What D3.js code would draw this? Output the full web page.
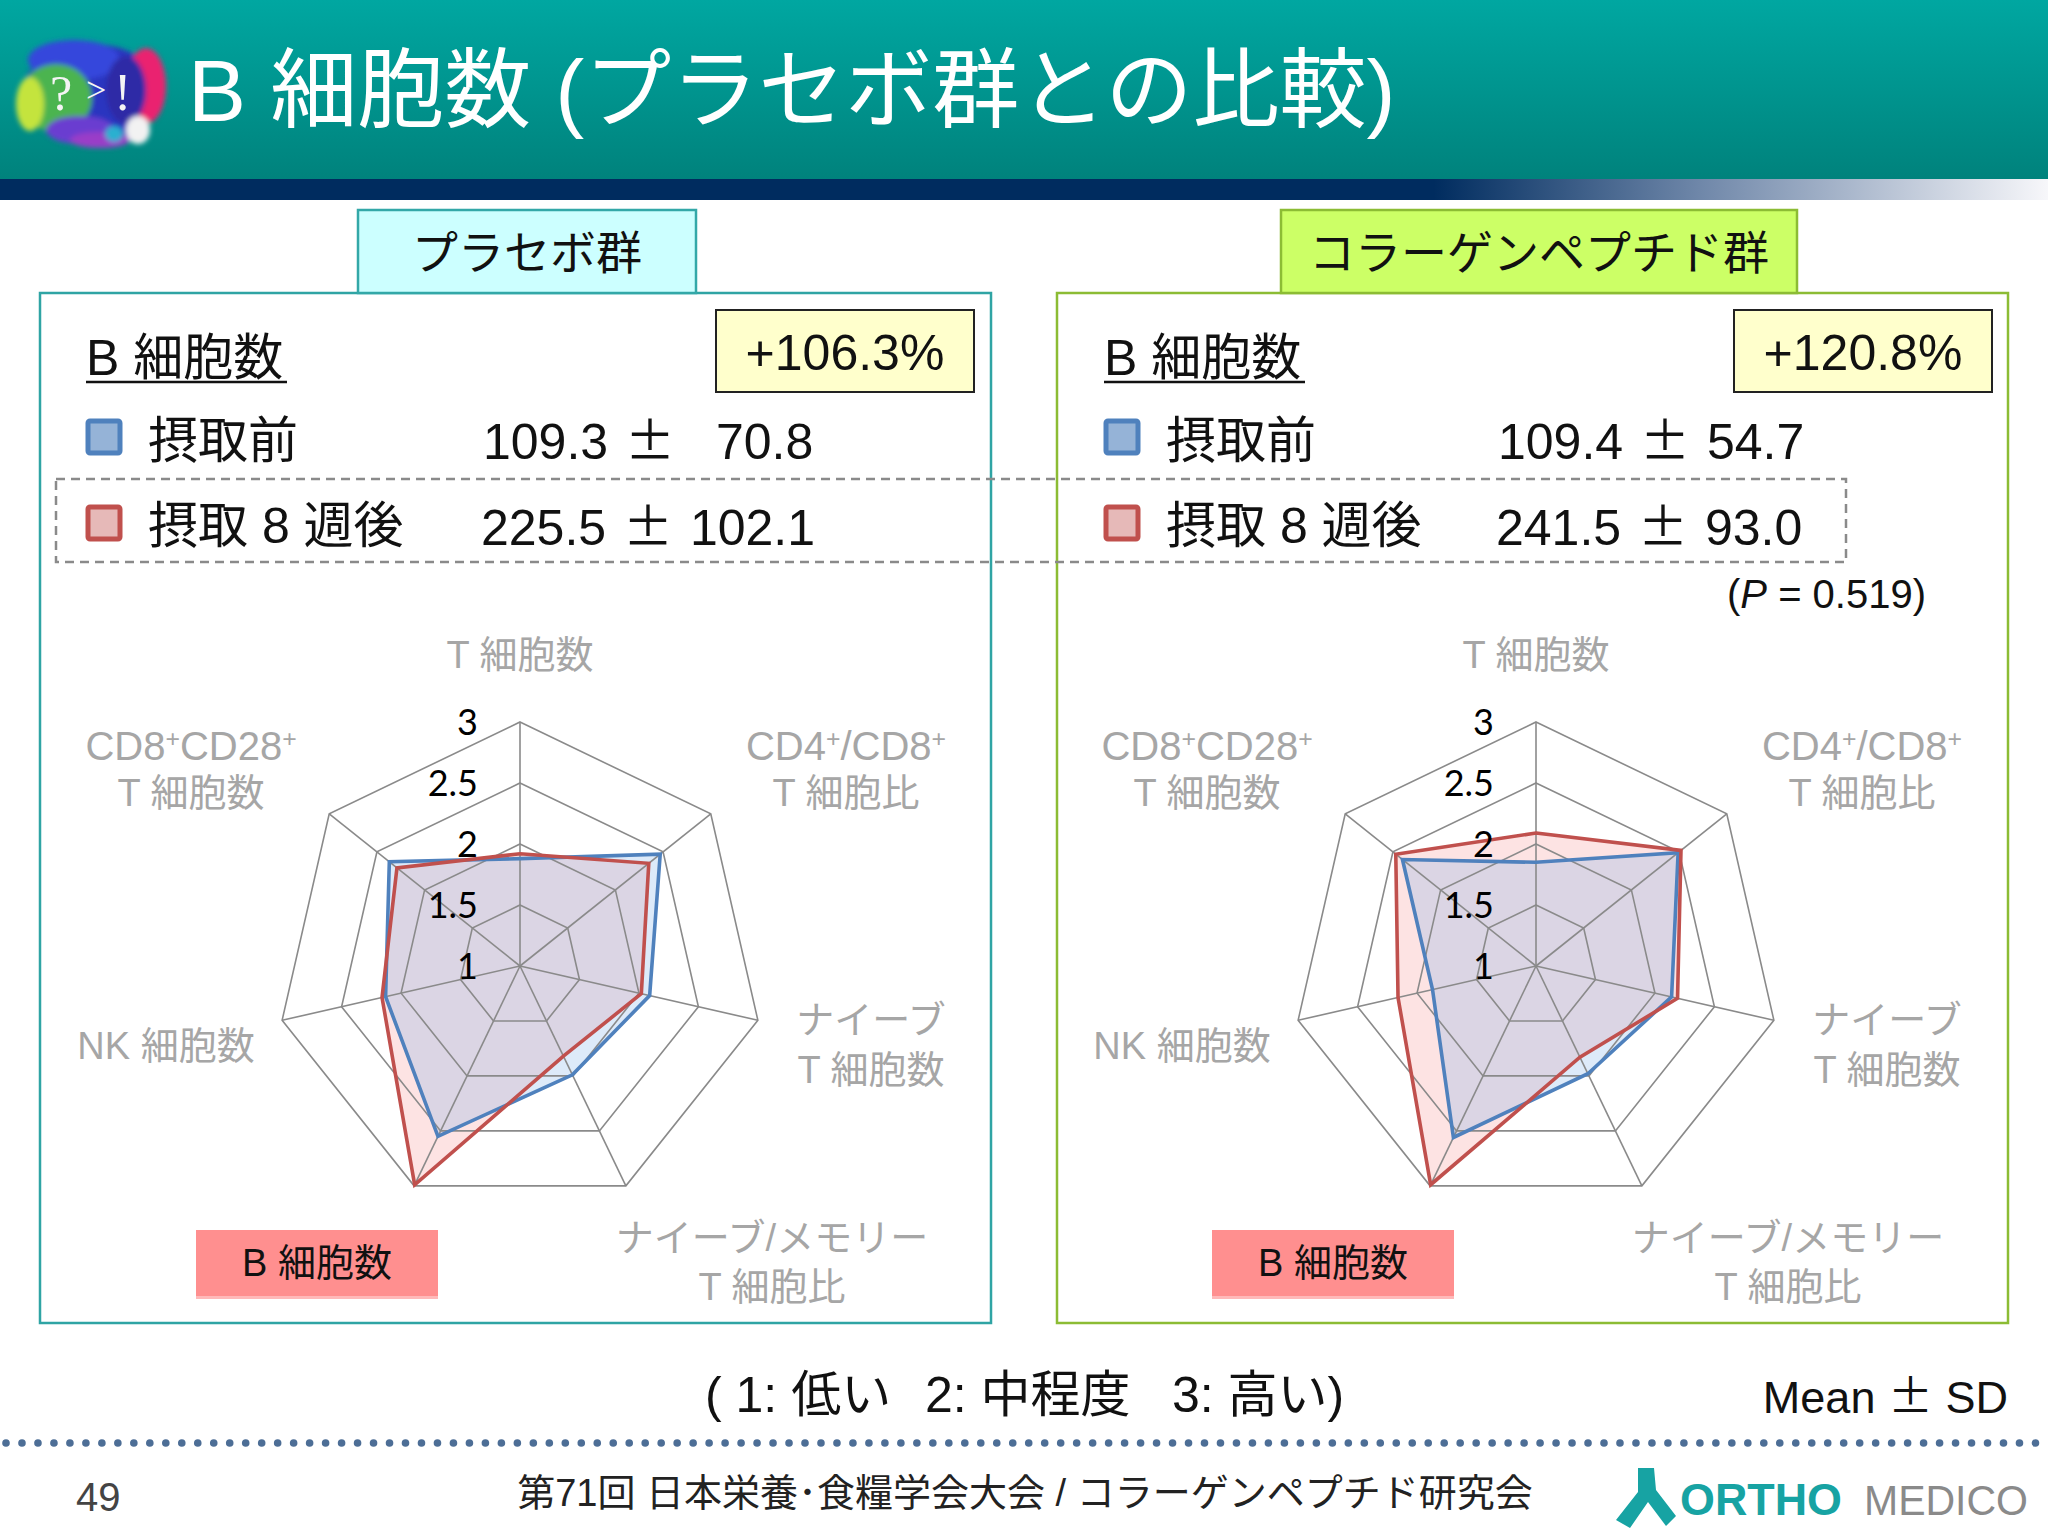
<!DOCTYPE html>
<html><head><meta charset="utf-8">
<script src="https://cdn.jsdelivr.net/npm/d3@7"></script>
<style>
html,body{margin:0;padding:0;background:#fff;}
svg{display:block;}
</style></head>
<body>
<script>
// ---------------- DATA ----------------
const axisLabels = [
  [["T 細胞数"]],
  [["CD4", {sup:"+"}, "/CD8", {sup:"+"}], ["T 細胞比"]],
  [["ナイーブ"], ["T 細胞数"]],
  [["ナイーブ/メモリー"], ["T 細胞比"]],
  [["B 細胞数"]],
  [["NK 細胞数"]],
  [["CD8", {sup:"+"}, "CD28", {sup:"+"}], ["T 細胞数"]]
];
const tickValues = [1, 1.5, 2, 2.5, 3];
const tickLabels = ["1", "1.5", "2", "2.5", "3"];
const placeboBefore  = [1.88, 2.47, 2.09, 1.99, 2.55, 2.13, 2.37];
const placeboAfter   = [1.92, 2.35, 2.02, 1.82, 2.99, 2.16, 2.29];
const collagenBefore = [1.85, 2.49, 2.14, 1.98, 2.56, 1.87, 2.40];
const collagenAfter  = [2.09, 2.52, 2.19, 1.83, 2.99, 2.16, 2.47];
const groupNames = ["プラセボ群", "コラーゲンペプチド群"];
const changeLabels = ["+106.3%", "+120.8%"];
const beforeMeans = ["109.3", "109.4"];
const beforeSDs = ["70.8", "54.7"];
const afterMeans = ["225.5", "241.5"];
const afterSDs = ["102.1", "93.0"];
const legendNames = ["摂取前", "摂取 8 週後"];
const scaleNote = ["( 1: 低い", "2: 中程度", "3: 高い)"];

// ---------------- LAYOUT ----------------
const W = 2048, H = 1536;
const JP = "'Liberation Sans', Arial, 'Noto Sans CJK JP', sans-serif";
const CJK = "'Noto Sans CJK JP', sans-serif";
const svg = d3.select("body").append("svg").attr("width", W).attr("height", H)
  .attr("font-family", JP);
const defs = svg.append("defs");

const tg = defs.append("linearGradient").attr("id","teal").attr("x1",0).attr("y1",0).attr("x2",0).attr("y2",1);
tg.append("stop").attr("offset",0).attr("stop-color","#00a7a1");
tg.append("stop").attr("offset",1).attr("stop-color","#00827c");
const ng = defs.append("linearGradient").attr("id","navy").attr("x1",0).attr("y1",0).attr("x2",1).attr("y2",0);
[[0,"#002c5f"],[0.70,"#002c5f"],[0.83,"#6f87a9"],[1,"#f7f7fa"]].forEach(s=>ng.append("stop").attr("offset",s[0]).attr("stop-color",s[1]));
const blur = defs.append("filter").attr("id","blur").attr("x","-20%").attr("y","-20%").attr("width","140%").attr("height","140%");
blur.append("feGaussianBlur").attr("stdDeviation",2.5);

svg.append("rect").attr("x",0).attr("y",0).attr("width",W).attr("height",180).attr("fill","url(#teal)");
svg.append("rect").attr("x",0).attr("y",179).attr("width",W).attr("height",21).attr("fill","url(#navy)");

// logo
const blobs = svg.append("g").attr("filter","url(#blur)");
[
  [92,94,70,50,"#2a34c0"],
  [74,60,46,20,"#3446dc"],
  [56,98,36,34,"#4cb450"],
  [30,104,14,27,"#c4e43e"],
  [146,86,20,38,"#ea2270"],
  [126,90,20,34,"#2f2aa6"],
  [80,130,34,14,"#6a3ed0"],
  [100,140,30,8,"#9a3ec8"],
  [138,130,12,14,"#f2f2f2"],
  [114,134,9,8,"#2ab0d0"]
].forEach(b=>blobs.append("ellipse").attr("cx",b[0]).attr("cy",b[1]).attr("rx",b[2]).attr("ry",b[3]).attr("fill",b[4]));
svg.append("text").attr("x",50).attr("y",110).attr("fill","#f4f4f4").attr("font-family","'Liberation Serif', serif")
  .attr("font-size",50).text("?");
svg.append("text").attr("x",86).attr("y",102).attr("fill","#f4f4f4").attr("font-family","'Liberation Serif', serif")
  .attr("font-size",36).text(">");
svg.append("text").attr("x",114).attr("y",110).attr("fill","#f4f4f4").attr("font-family","'Liberation Serif', serif")
  .attr("font-size",52).text("!");

svg.append("text").attr("x",188).attr("y",121).attr("fill","#fff").attr("font-size",87)
  .text("B 細胞数 (プラセボ群との比較)");

// ---------------- PANELS ----------------
const panels = [
  {x:40, tab:[358,696], tabFill:"#ccffff", stroke:"#2fa4a4", tabStroke:"#33a8a8"},
  {x:1057, tab:[1281,1797], tabFill:"#ccff66", stroke:"#8cbc34", tabStroke:"#8cbc34"}
];
const panelW = 951, panelTop = 293, panelBottom = 1323;

panels.forEach((p,i)=>{
  svg.append("rect").attr("x",p.x).attr("y",panelTop).attr("width",panelW).attr("height",panelBottom-panelTop)
    .attr("fill","#fff").attr("stroke",p.stroke).attr("stroke-width",2.5);
  svg.append("rect").attr("x",p.tab[0]).attr("y",210).attr("width",p.tab[1]-p.tab[0]).attr("height",83)
    .attr("fill",p.tabFill).attr("stroke",p.tabStroke).attr("stroke-width",2.5);
  svg.append("text").attr("x",(p.tab[0]+p.tab[1])/2).attr("y",269).attr("text-anchor","middle")
    .attr("font-size",46).attr("fill","#111").text(groupNames[i]);
});

function pm(t, gap){
  t.append("tspan").text(" ");
  t.append("tspan").attr("font-family",CJK).attr("dx",gap).text("±");
  t.append("tspan").attr("dx",gap).text(" ");
}

const off = [0, 1018];
[0,1].forEach(i=>{
  const ox = off[i];
  svg.append("text").attr("x",86+ox).attr("y",375).attr("font-size",50).attr("fill","#111").text("B 細胞数");
  svg.append("line").attr("x1",86+ox).attr("x2",287+ox).attr("y1",382).attr("y2",382).attr("stroke","#111").attr("stroke-width",2.5);
  svg.append("rect").attr("x",716+ox).attr("y",310).attr("width",258).attr("height",82)
    .attr("fill","#ffffcc").attr("stroke","#222").attr("stroke-width",2);
  svg.append("text").attr("x",845+ox).attr("y",370).attr("text-anchor","middle").attr("font-size",50).attr("fill","#111").text(changeLabels[i]);
  svg.append("rect").attr("x",88+ox).attr("y",421).attr("width",32).attr("height",32).attr("rx",2)
    .attr("fill","#95b3d7").attr("stroke","#4f81bd").attr("stroke-width",5);
  svg.append("rect").attr("x",88+ox).attr("y",507).attr("width",32).attr("height",32).attr("rx",2)
    .attr("fill","#e6b9b8").attr("stroke","#c0504d").attr("stroke-width",5);
  svg.append("text").attr("x",148+ox).attr("y",458).attr("font-size",50).attr("fill","#111").text(legendNames[0]);
  svg.append("text").attr("x",148+ox).attr("y",543).attr("font-size",50).attr("fill","#111").text(legendNames[1]);
});
let t = svg.append("text").attr("x",483).attr("y",459).attr("font-size",50).attr("fill","#111");
t.append("tspan").text(beforeMeans[0]); pm(t, 3);
svg.append("text").attr("x",716).attr("y",459).attr("font-size",50).attr("fill","#111").text(beforeSDs[0]);
t = svg.append("text").attr("x",481).attr("y",545).attr("font-size",50).attr("fill","#111");
t.append("tspan").text(afterMeans[0]); pm(t, 3); t.append("tspan").text(afterSDs[0]);
t = svg.append("text").attr("x",1498).attr("y",459).attr("font-size",50).attr("fill","#111");
t.append("tspan").text(beforeMeans[1]); pm(t, 3); t.append("tspan").text(beforeSDs[1]);
t = svg.append("text").attr("x",1496).attr("y",545).attr("font-size",50).attr("fill","#111");
t.append("tspan").text(afterMeans[1]); pm(t, 3); t.append("tspan").text(afterSDs[1]);

svg.append("rect").attr("x",56).attr("y",479).attr("width",1790).attr("height",83)
  .attr("fill","none").attr("stroke","#8a8a8a").attr("stroke-width",2.5).attr("stroke-dasharray","9,6");

const ptx = svg.append("text").attr("x",1727).attr("y",608).attr("font-size",40).attr("fill","#111");
ptx.append("tspan").text("(");
ptx.append("tspan").attr("font-style","italic").text("P");
ptx.append("tspan").text(" = 0.519)");

// ---------------- RADAR ----------------
const R = 244;
const N = axisLabels.length;
const rScale = d3.scaleLinear().domain([1,3]).range([0,R]);
const angle = d3.scaleLinear().domain([0,N]).range([-Math.PI/2, 1.5*Math.PI]);
const labelLayout = [
  {dx:0, y:[-298]},
  {dx:326, y:[-206,-160]},
  {dx:351, y:[67,117]},
  {dx:252, y:[285,334]},
  null,
  {dx:-354, y:[93]},
  {dx:-329, y:[-206,-160]}
];

function pt2(i, v){ const a = angle(i); return [Math.cos(a)*rScale(v), Math.sin(a)*rScale(v)]; }

function richText(g, x, y, parts, size, fill){
  const tx = g.append("text").attr("x",x).attr("y",y).attr("text-anchor","middle").attr("font-size",size).attr("fill",fill);
  parts.forEach(p=>{
    if (typeof p === "string") tx.append("tspan").text(p);
    else tx.append("tspan").attr("baseline-shift","super").attr("font-size","62%").text(p.sup);
  });
}

function drawRadar(cx, cy, before, after){
  const g = svg.append("g").attr("transform",`translate(${cx},${cy})`);
  const line = d3.line().curve(d3.curveLinearClosed);
  g.append("path").attr("d", line(after.map((v,i)=>pt2(i,v)))).attr("fill","rgb(253,227,227)");
  g.append("path").attr("d", line(before.map((v,i)=>pt2(i,v)))).attr("fill","rgba(120,170,230,0.25)");
  tickValues.slice(1).forEach(tv=>{
    g.append("path").attr("d", line(d3.range(N).map(i=>pt2(i,tv))))
      .attr("fill","none").attr("stroke","#8a8a8a").attr("stroke-width",1.6);
  });
  d3.range(N).forEach(i=>{
    const [x,y] = pt2(i,3);
    g.append("line").attr("x1",0).attr("y1",0).attr("x2",x).attr("y2",y).attr("stroke","#8a8a8a").attr("stroke-width",1.6);
  });
  g.append("path").attr("d", line(before.map((v,i)=>pt2(i,v))))
    .attr("fill","none").attr("stroke","#4f81bd").attr("stroke-width",3.6);
  g.append("path").attr("d", line(after.map((v,i)=>pt2(i,v))))
    .attr("fill","none").attr("stroke","#c0504d").attr("stroke-width",3.6);
  tickValues.forEach((tv,k)=>{
    g.append("text").attr("x",-42).attr("y",-rScale(tv)).attr("dy","0.35em").attr("text-anchor","end")
      .attr("font-family","Lato, 'Open Sans', sans-serif").attr("font-size",36).attr("fill","#000").text(tickLabels[k]);
  });
  axisLabels.forEach((lines,i)=>{
    const L = labelLayout[i];
    if (!L) {
      g.append("rect").attr("x",-324).attr("y",264).attr("width",242).attr("height",68).attr("fill","#ff8f8f");
      g.append("rect").attr("x",-324).attr("y",330).attr("width",242).attr("height",3).attr("fill","#ffb9b9");
      richText(g, -203, 310, lines[0], 38, "#111");
      return;
    }
    lines.forEach((parts,j)=> richText(g, L.dx, L.y[j], parts, j===0 && typeof parts[1]==="object" ? 40 : 38, "#a6a6a6"));
  });
}
drawRadar(520, 966, placeboBefore, placeboAfter);
drawRadar(1536, 966, collagenBefore, collagenAfter);

// ---------------- FOOTER ----------------
[705, 925, 1172].forEach((x,k)=>{
  svg.append("text").attr("x",x).attr("y",1412).attr("font-size",50).attr("fill","#111").text(scaleNote[k]);
});
const ms = svg.append("text").attr("x",2008).attr("y",1413).attr("text-anchor","end").attr("font-size",45).attr("fill","#111");
ms.append("tspan").text("Mean"); pm(ms, 0); ms.append("tspan").text("SD");

const dots = svg.append("g");
d3.range(0, 128).forEach(k=>{
  dots.append("circle").attr("cx", 6 + k*15.98).attr("cy",1443).attr("r",3.8).attr("fill","#4d6e96");
});

svg.append("text").attr("x",76).attr("y",1511).attr("font-size",40).attr("fill","#444").text("49");
svg.append("text").attr("x",1025).attr("y",1506).attr("text-anchor","middle").attr("font-size",38).attr("fill","#222")
  .text("第71回 日本栄養･食糧学会大会 / コラーゲンペプチド研究会");

svg.append("path").attr("d","M1638,1468 L1654,1468 L1656,1490 L1676,1516 L1666,1526 L1648,1502 L1630,1528 L1616,1520 L1638,1492 Z")
  .attr("fill","#17a3a3");
svg.append("text").attr("x",1680).attr("y",1515).attr("font-size",44).attr("font-weight","bold").attr("fill","#17a3a3")
  .attr("textLength",162).attr("lengthAdjust","spacingAndGlyphs").text("ORTHO");
svg.append("text").attr("x",1864).attr("y",1515).attr("font-size",42).attr("fill","#8a8a8a")
  .attr("textLength",164).attr("lengthAdjust","spacingAndGlyphs").text("MEDICO");
</script>
</body></html>
